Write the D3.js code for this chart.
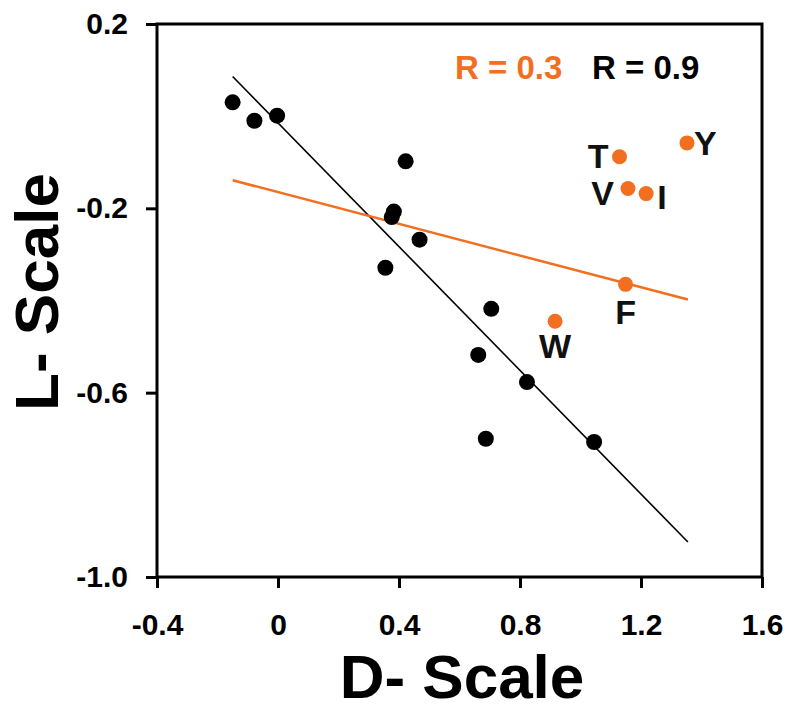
<!DOCTYPE html>
<html><head><meta charset="utf-8">
<script src="https://cdn.jsdelivr.net/npm/d3@7/dist/d3.min.js"></script>
<style>body{margin:0;background:#fff}svg{display:block}</style>
</head><body>
<svg id="chart" width="793" height="713"></svg>
<script>
// ---- data ----
const blackX = [-0.150, -0.078, -0.003, 0.422, 0.383, 0.376, 0.468, 0.355, 0.705, 0.662, 0.823, 0.687, 1.045];
const blackY = [0.030, -0.010, 0.001, -0.098, -0.207, -0.219, -0.268, -0.329, -0.418, -0.518, -0.577, -0.700, -0.707];
const orangeLabels = ["T", "Y", "V", "I", "F", "W"];
const orangeX = [1.129, 1.352, 1.157, 1.217, 1.149, 0.916];
const orangeY = [-0.088, -0.058, -0.157, -0.168, -0.365, -0.445];
const blackFitX = [-0.150, 1.355];
const blackFitY = [0.086, -0.924];
const orangeFitX = [-0.150, 1.355];
const orangeFitY = [-0.139, -0.398];
const xTickValues = [-0.4, 0, 0.4, 0.8, 1.2, 1.6];
const xTickLabels = ["-0.4", "0", "0.4", "0.8", "1.2", "1.6"];
const yTickValues = [0.2, -0.2, -0.6, -1.0];
const yTickLabels = ["0.2", "-0.2", "-0.6", "-1.0"];
const rOrange = "R = 0.3";
const rBlack = "R = 0.9";
const xTitle = "D- Scale";
const yTitle = "L- Scale";

// ---- layout ----
const ORANGE = "#f26f1f";
const FONT = "'Liberation Sans', Arial, Helvetica, sans-serif";
const L = 157, R = 762, T = 24, B = 577;
const svg = d3.select("#chart");
const x = d3.scaleLinear().domain([-0.4, 1.6]).range([L, R]);
const y = d3.scaleLinear().domain([-1.0, 0.2]).range([B, T]);

// label placement (anchor, dx, dy) by label
const labelPos = {
  T: ["end", -11, 11], Y: ["start", 7, 12], V: ["end", -14, 16],
  I: ["start", 11, 15], F: ["middle", 0, 40], W: ["middle", 0, 37]
};

// frame
svg.append("rect").attr("x", L).attr("y", T).attr("width", R - L).attr("height", B - T)
  .attr("fill", "none").attr("stroke", "#000").attr("stroke-width", 3);

// axes
const xAxis = d3.axisBottom(x).tickValues(xTickValues)
  .tickFormat((d, i) => xTickLabels[i]).tickSizeInner(11).tickSizeOuter(0).tickPadding(26);
const gx = svg.append("g").attr("transform", `translate(0,${B})`).call(xAxis);
const yAxis = d3.axisLeft(y).tickValues(yTickValues)
  .tickFormat((d, i) => yTickLabels[i]).tickSizeInner(11).tickSizeOuter(0).tickPadding(18);
const gy = svg.append("g").attr("transform", `translate(${L},0)`).call(yAxis);
[gx, gy].forEach(g => {
  g.select(".domain").remove();
  g.selectAll(".tick line").attr("stroke", "#000").attr("stroke-width", 3);
  g.selectAll(".tick text").attr("fill", "#000").style("font-family", FONT)
    .style("font-size", "30px").style("font-weight", "bold");
});

// regression lines
const line = d3.line().x(d => x(d[0])).y(d => y(d[1]));
svg.append("path").datum(blackFitX.map((v, i) => [v, blackFitY[i]]))
  .attr("d", line).attr("stroke", "#000").attr("stroke-width", 1.6).attr("fill", "none");
svg.append("path").datum(orangeFitX.map((v, i) => [v, orangeFitY[i]]))
  .attr("d", line).attr("stroke", ORANGE).attr("stroke-width", 2.5).attr("fill", "none");

// black points
svg.append("g").selectAll("circle").data(blackX.map((v, i) => [v, blackY[i]])).join("circle")
  .attr("cx", d => x(d[0])).attr("cy", d => y(d[1])).attr("r", 8).attr("fill", "#000");

// orange points
const od = orangeX.map((v, i) => ({ x: v, y: orangeY[i], label: orangeLabels[i] }));
svg.append("g").selectAll("circle").data(od).join("circle")
  .attr("cx", d => x(d.x)).attr("cy", d => y(d.y)).attr("r", 7.5).attr("fill", ORANGE);
svg.append("g").selectAll("text").data(od).join("text")
  .attr("x", d => x(d.x) + labelPos[d.label][1])
  .attr("y", d => y(d.y) + labelPos[d.label][2])
  .attr("text-anchor", d => labelPos[d.label][0])
  .style("font-family", FONT).style("font-size", "34px").style("font-weight", "bold")
  .attr("fill", "#111").text(d => d.label);

// R annotations
svg.append("text").attr("x", 455).attr("y", 79).attr("fill", ORANGE)
  .style("font-family", FONT).style("font-size", "33px").style("font-weight", "bold").text(rOrange);
svg.append("text").attr("x", 592).attr("y", 79).attr("fill", "#000")
  .style("font-family", FONT).style("font-size", "33px").style("font-weight", "bold").text(rBlack);

// titles
svg.append("text").attr("x", 462).attr("y", 698).attr("text-anchor", "middle")
  .style("font-family", FONT).style("font-size", "62px").style("font-weight", "bold").text(xTitle);
svg.append("text").attr("transform", "translate(58,292) rotate(-90)").attr("text-anchor", "middle")
  .style("font-family", FONT).style("font-size", "62px").style("font-weight", "bold").text(yTitle);
</script>
</body></html>
